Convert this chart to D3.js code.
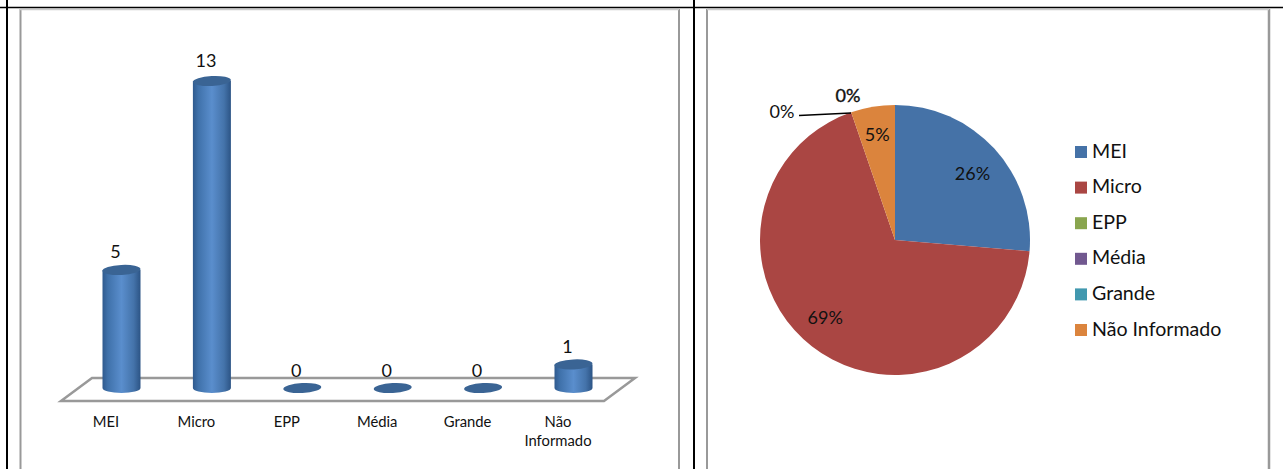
<!DOCTYPE html>
<html><head><meta charset="utf-8">
<script src="https://cdn.jsdelivr.net/npm/d3@7"></script>
<style>html,body{margin:0;padding:0;background:#fff;overflow:hidden}svg{display:block}text{font-family:Lato,"Open Sans",sans-serif;fill:#111}</style>
</head><body><svg id="c" width="1283" height="469"></svg>
<script>
const categories=["MEI","Micro","EPP","Média","Grande","Não Informado"];
const barValues=[5,13,0,0,0,1];
const pieLabels=["26%","69%","0%","0%","0%","5%"];
const pieColors=["#4572A7","#AA4643","#89A54E","#71588F","#4198AF","#DB843D"];
const svg=d3.select("#c");
const defs=svg.append("defs");
const grad=defs.append("linearGradient").attr("id","cyl");
[[0,"#2f5a8e"],[.14,"#3f71aa"],[.5,"#5a8ecd"],[.82,"#4473aa"],[1,"#2c5485"]].forEach(d=>grad.append("stop").attr("offset",d[0]).attr("stop-color",d[1]));

// frames
const line=(x1,y1,x2,y2,c,w)=>svg.append("line").attr("x1",x1).attr("y1",y1).attr("x2",x2).attr("y2",y2).attr("stroke",c).attr("stroke-width",w);
line(20.5,9,20.5,469,"#999",2);line(679,9,679,469,"#999",2);line(707,9,707,469,"#999",2);line(1269,9,1269,469,"#999",2.5);
line(20,9.5,679,9.5,"#ccc",1.5);line(707,9.5,1269,9.5,"#ccc",1.5);
line(0,7.5,1283,7.5,"#000",1.5);line(7,0,7,469,"#000",2);line(694,0,694,469,"#000",2);

// bar chart
const xBand=d3.scalePoint().domain(categories).range([121.5,573.5]);
const y=d3.scaleLinear().domain([0,13]).range([388,81]);
const labelGap=d3.scaleLinear().domain([0,13]).range([11,14]);
const rx=19,ry=5;
svg.append("path").attr("fill","none").attr("stroke","#999").attr("stroke-width",2.5)
 .attr("d",d3.line()([[61,401],[92,378],[635,378],[604,401]])+"Z");
const g=svg.append("g").selectAll("g").data(categories).join("g");
g.each(function(c,i){
  const s=d3.select(this),cx=xBand(c),v=barValues[i],t=y(v),b=y(0);
  if(v>0){
    s.append("path").attr("fill","url(#cyl)")
     .attr("d",`M${cx-rx},${t}L${cx-rx},${b}A${rx},${ry} 0 0 0 ${cx+rx},${b}L${cx+rx},${t}Z`);
  }
  s.append("ellipse").attr("cx",cx).attr("cy",t).attr("rx",rx).attr("ry",ry).attr("fill","#3a6494")
   .attr("transform",`rotate(-3 ${cx} ${t})`);
  s.append("text").attr("x",cx-6).attr("y",t-labelGap(v)).attr("text-anchor","middle").attr("font-size",18).text(v);
});
const labelX=d3.scalePoint().domain(categories).range([106,558]);
categories.forEach(c=>{
  const t=svg.append("text").attr("x",labelX(c)).attr("y",427).attr("text-anchor","middle").attr("font-size",14.8);
  if(c==="Não Informado"){
    t.append("tspan").attr("x",labelX(c)).text("Não");
    t.append("tspan").attr("x",labelX(c)).attr("dy",19).text("Informado");
  } else t.text(c);
});

// pie
const cx=895,cy=240,R=135;
const pie=d3.pie().sort(null).value(d=>d)(barValues);
const arc=d3.arc().innerRadius(0).outerRadius(R);
const pg=svg.append("g").attr("transform",`translate(${cx},${cy})`);
pg.selectAll("path").data(pie).join("path").attr("d",arc).attr("fill",(d,i)=>pieColors[i]);
const labelR=d3.scaleOrdinal().domain([0,1,5]).range([.77,.83,.80]);
const nudge=new Map([[0,[1,4]],[1,[-1,-10]],[5,[0,2]]]);
pie.forEach((d,i)=>{
  if(d.value===0)return;
  const m=(d.startAngle+d.endAngle)/2,r=R*labelR(i),n=nudge.get(i);
  pg.append("text").attr("x",Math.sin(m)*r+n[0]).attr("y",-Math.cos(m)*r+6+n[1]).attr("text-anchor","middle").attr("font-size",18).text(pieLabels[i]);
});
svg.append("text").attr("x",782).attr("y",118).attr("text-anchor","middle").attr("font-size",18).text(pieLabels[2]);
svg.append("text").attr("x",848).attr("y",102).attr("text-anchor","middle").attr("font-size",18).attr("stroke","#111").attr("stroke-width",.4).text(pieLabels[3]);
svg.append("path").attr("fill","none").attr("stroke","#000").attr("stroke-width",1.7).attr("d",d3.line()([[799,115.5],[851,113]]));

// legend
const ly=d3.scalePoint().domain(categories).range([152,330]);
categories.forEach((c,i)=>{
  svg.append("rect").attr("x",1075).attr("y",ly(c)-6).attr("width",12).attr("height",12).attr("fill",pieColors[i]);
  svg.append("text").attr("x",1092).attr("y",ly(c)+5.5).attr("font-size",19.6).text(c);
});
</script></body></html>
